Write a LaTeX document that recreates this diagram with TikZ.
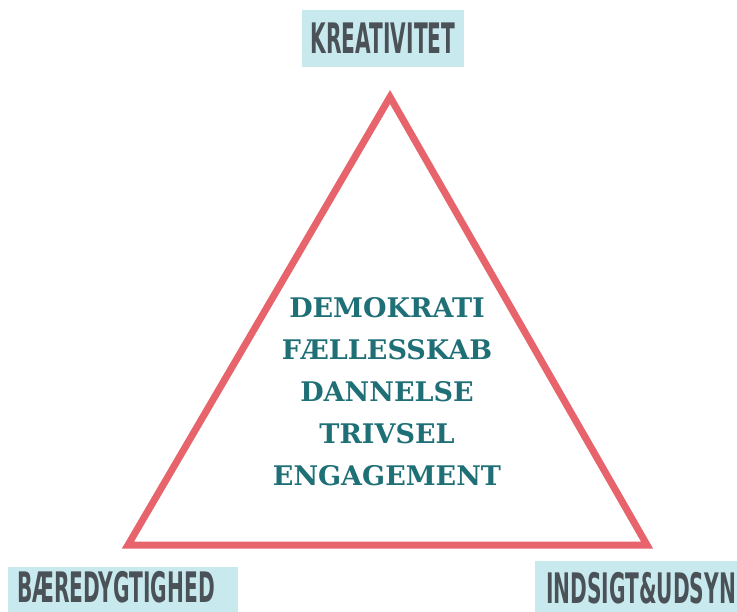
\documentclass[tikz,border=0pt]{standalone}
\usepackage{fontspec}
\setmainfont{DejaVu Serif}
\newfontfamily\labfont{DejaVu Sans}
\newfontfamily\midfont{DejaVu Serif}
\definecolor{tri}{HTML}{E8646C}
\definecolor{boxfill}{HTML}{C8EAEF}
\definecolor{labtext}{HTML}{4A5257}
\definecolor{midtext}{HTML}{1F6F76}
\newcommand{\lab}[1]{\scalebox{0.48}[1]{#1}}
\tikzset{
  labbox/.style={fill=boxfill, inner sep=0pt, text=labtext, font=\labfont\bfseries\fontsize{42bp}{42bp}\selectfont},
  labtxt/.style={inner sep=0pt, text=labtext, font=\labfont\bfseries\fontsize{42bp}{42bp}\selectfont},
  midtextstyle/.style={align=center, text=midtext, font=\midfont\bfseries\fontsize{27bp}{42bp}\selectfont},
  triline/.style={draw=tri, line width=7bp, line join=miter}
}
\begin{document}
\begin{tikzpicture}[x=1bp,y=-1bp]
\useasboundingbox (0,0) rectangle (737,612);
\clip (0,0) rectangle (737,612);
\fill[white] (0,0) rectangle (737,612);
\coordinate (A) at (390,97);
\coordinate (B) at (128,545);
\coordinate (C) at (647,545);
\draw[triline] (A) -- (B) -- (C) -- cycle;
\node[labbox, minimum width=162bp, minimum height=57bp] (k) at (383,38.5) {\lab{KREATIVITET}};
\node[labbox, minimum width=230bp, minimum height=60bp, anchor=north west] (b) at (8,567) {};
\node[labtxt, anchor=base] (bt) at (116,602) {\lab{BÆREDYGTIGHED}};
\node[labbox, minimum width=210bp, minimum height=60bp, anchor=north west] (i) at (535,561) {};
\node[labtxt, anchor=base] (it) at (641,603) {\lab{INDSIGT\&UDSYN}};
\node[midtextstyle] (m) at (387,392) {DEMOKRATI\\FÆLLESSKAB\\DANNELSE\\TRIVSEL\\ENGAGEMENT};
\end{tikzpicture}
\end{document}
